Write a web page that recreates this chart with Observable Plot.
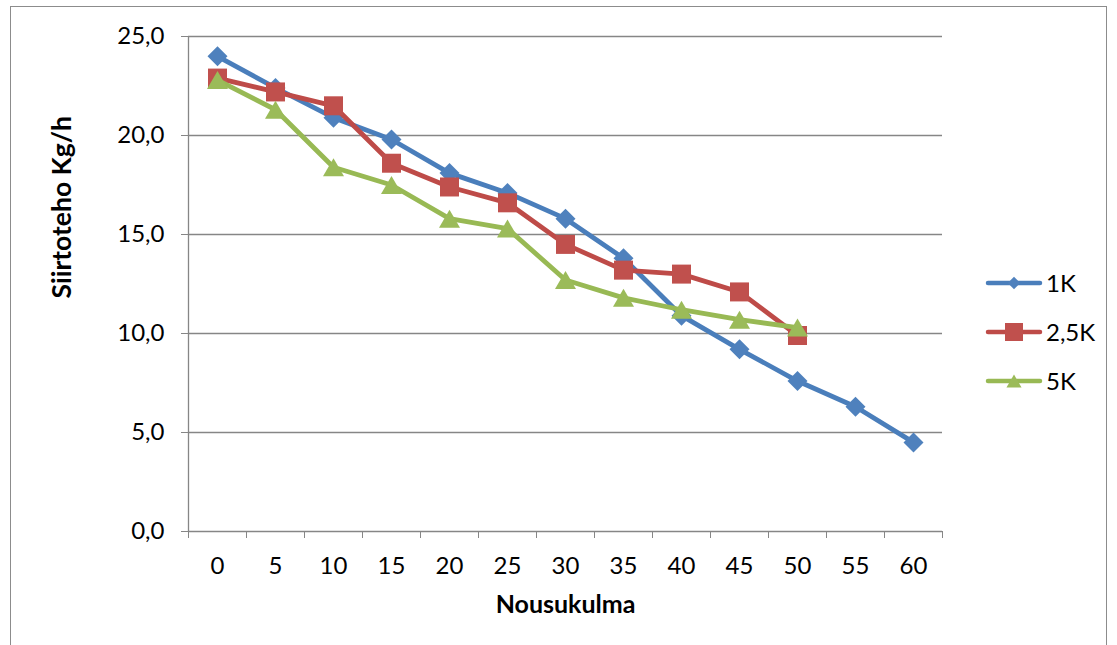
<!DOCTYPE html>
<html>
<head>
<meta charset="utf-8">
<script src="https://cdn.jsdelivr.net/npm/d3@7"></script>
<script src="https://cdn.jsdelivr.net/npm/@observablehq/plot@0.6"></script>
<style>
  html, body { margin: 0; padding: 0; background: #fff; }
  #wrap { position: relative; width: 1117px; height: 645px; overflow: hidden; font-family: Lato, "Open Sans", sans-serif; }
  #frame { position: absolute; left: 10px; top: 6px; width: 1097px; height: 660px; border: 1.3px solid #8c8c8c; box-sizing: border-box; }
  #chart { position: absolute; left: 0; top: 0; }
  #legend { position: absolute; left: 985px; top: 258px; font-size: 24px; color: #000; }
  .item { display: flex; align-items: center; height: 49px; }
  .item span { margin-left: 3px; }
</style>
</head>
<body>
<div id="wrap">
  <div id="frame"></div>
  <div id="chart"></div>
  <div id="legend"></div>
</div>
<script>
// ---- data ----
const angles = [0, 5, 10, 15, 20, 25, 30, 35, 40, 45, 50, 55, 60];
const k1  = [24.0, 22.4, 20.9, 19.8, 18.1, 17.1, 15.8, 13.8, 10.9, 9.2, 7.6, 6.3, 4.5];
const k25 = [22.9, 22.2, 21.5, 18.6, 17.4, 16.6, 14.5, 13.2, 13.0, 12.1, 9.9];
const k5  = [22.8, 21.3, 18.4, 17.5, 15.8, 15.3, 12.7, 11.8, 11.2, 10.7, 10.3];
const seriesNames = ["1K", "2,5K", "5K"];
const lineColors = ["#4A7EBB", "#BE4B48", "#98B954"];
const markColors = ["#4F81BD", "#C0504D", "#9BBB59"];
const yTicks = [0, 5, 10, 15, 20, 25];
const xLabel = "Nousukulma";
const yLabel = "Siirtoteho Kg/h";

// custom symbols (Excel style)
const diamond = { draw(ctx, size) { const h = 10; ctx.moveTo(0, -h); ctx.lineTo(h, 0); ctx.lineTo(0, h); ctx.lineTo(-h, 0); ctx.closePath(); } };
const square = { draw(ctx, size) { const s = 9.5; ctx.moveTo(-s, -s); ctx.lineTo(s, -s); ctx.lineTo(s, s); ctx.lineTo(-s, s); ctx.closePath(); } };
const triangle = { draw(ctx, size) { const w = 10.5, h = 9; ctx.moveTo(0, -h); ctx.lineTo(w, h); ctx.lineTo(-w, h); ctx.closePath(); } };
const symbols = [diamond, square, triangle];

const seriesValues = [k1, k25, k5];
const tables = seriesValues.map((vals, i) => vals.map((v, j) => ({ angle: angles[j], value: v, series: seriesNames[i] })));

// tick boundaries between categories
const step = angles[1] - angles[0];
const bounds = angles.map(a => a - step / 2).concat([angles[angles.length - 1] + step / 2]);
const fmt = d => d.toFixed(1).replace(".", ",");
const grey = "#868686";

const marks = [
  Plot.gridY(yTicks.filter(d => d > 0), { stroke: grey, strokeOpacity: 1, strokeWidth: 1.3 }),
  Plot.ruleY([0], { stroke: grey, strokeWidth: 1.3 }),
  Plot.ruleX([bounds[0]], { stroke: grey, strokeWidth: 1.3 }),
  Plot.axisY(yTicks, { tickFormat: fmt, tickSize: 7, tickPadding: 17, stroke: grey, strokeOpacity: 1, fill: "#000", fontSize: 24, label: null }),
  Plot.axisX(bounds, { tickFormat: () => "", tickSize: 7, stroke: grey, strokeOpacity: 1, label: null }),
  Plot.axisX(angles, { tickSize: 0, tickPadding: 25, fill: "#000", fontSize: 24, label: null, tickFormat: d => String(d) }),
  Plot.text([yLabel], { text: d => d, frameAnchor: "left", dx: -126, dy: 14.5, rotate: -90, fontWeight: "bold", fontSize: 26.5, fill: "#000" }),
  Plot.text([xLabel], { text: d => d, frameAnchor: "bottom", dy: 81, fontWeight: "bold", fontSize: 25, fill: "#000" })
];
tables.forEach((t, i) => {
  marks.push(Plot.line(t, { x: "angle", y: "value", stroke: lineColors[i], strokeWidth: 4.8, strokeLinejoin: "round", strokeLinecap: "round" }));
  marks.push(Plot.dot(t, { x: "angle", y: "value", symbol: symbols[i], fill: markColors[i], stroke: "none", r: 8 }));
});

const chart = Plot.plot({
  width: 1117,
  height: 645,
  marginLeft: 188,
  marginRight: 175,
  marginTop: 36,
  marginBottom: 114,
  style: { fontFamily: "Lato, 'Open Sans', sans-serif", fontSize: "24px", background: "transparent", color: "#000" },
  x: { type: "linear", domain: [bounds[0], bounds[bounds.length - 1]], axis: null },
  y: { domain: [0, 25], axis: null },
  marks
});
document.getElementById("chart").appendChild(chart);

// legend
const legend = d3.select("#legend");
seriesNames.forEach((name, i) => {
  const item = legend.append("div").attr("class", "item");
  const svg = item.append("svg").attr("width", 58).attr("height", 24);
  svg.append("line").attr("x1", 3).attr("x2", 55).attr("y1", 12).attr("y2", 12)
    .attr("stroke", lineColors[i]).attr("stroke-width", 4.5).attr("stroke-linecap", "round");
  const path = d3.path();
  const scale = [0.62, 0.95, 0.72][i];
  symbols[i].draw(path, 0);
  svg.append("path").attr("d", path.toString()).attr("fill", markColors[i])
    .attr("transform", `translate(29,12) scale(${scale})`);
  item.append("span").text(name);
});
</script>
</body>
</html>
